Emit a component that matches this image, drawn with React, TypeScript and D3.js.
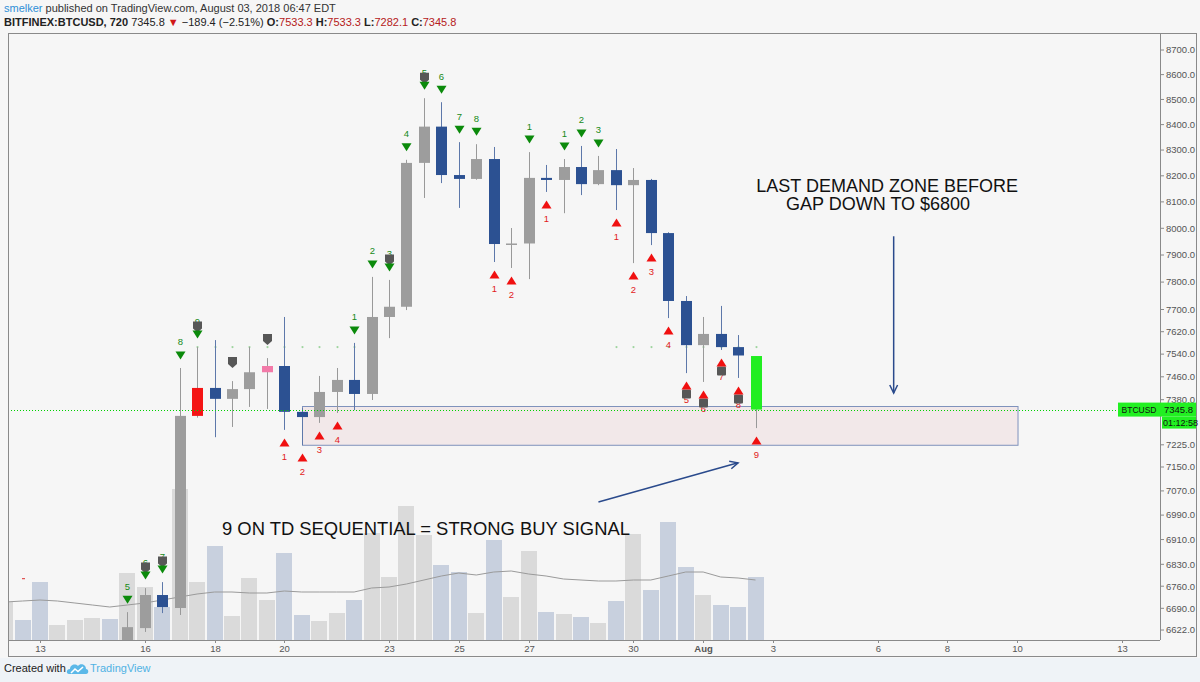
// @ts-nocheck
import * as d3 from "d3";
import { useEffect } from "react";

const FONT = "'Liberation Sans', Arial, Helvetica, sans-serif";

// BITFINEX:BTCUSD, 720 (12h bars). Bar 0 = 2018-07-12 00:00 UTC
const FIRST_BAR = Date.UTC(2018, 6, 12, 0);
const BAR_MS = 12 * 60 * 60 * 1000;

const opens = [6370, 6390, 6250, 6215, 6240, 6270, 6290, 6260, 6628, 6732, 6691, 7324, 7421, 7383, 7417, 7476, 7498, 7338, 7320, 7407, 7449, 7400, 7673, 7710, 8250, 8392, 8203, 8188, 8265, 7941, 7943, 8192, 8184, 8234, 8168, 8222, 8164, 8184, 7982, 7731, 7572, 7612, 7565, 7533.3];
const highs = [6420, 6400, 6300, 6280, 6300, 6340, 6320, 6678, 6754, 6773, 7491, 7565, 7590, 7445, 7565, 7526, 7673, 7351, 7463, 7491, 7580, 7819, 7808, 8262, 8505, 8489, 8331, 8323, 8312, 8001, 8292, 8242, 8265, 8316, 8277, 8304, 8230, 8188, 7985, 7749, 7673, 7713, 7608, 7533.3];
const lows = [6340, 6140, 6130, 6200, 6220, 6250, 6240, 6240, 6616, 6675, 6669, 7318, 7251, 7286, 7355, 7348, 7276, 7224, 7300, 7334, 7344, 7379, 7597, 7698, 8115, 8172, 8077, 8185, 7874, 7852, 7811, 8138, 8057, 8126, 8164, 8069, 7870, 7937, 7669, 7473, 7442, 7555, 7456, 7282.1];
const closes = [6390, 6250, 6215, 6240, 6270, 6290, 6260, 6631, 6732, 6694, 7324, 7421, 7383, 7417, 7476, 7498, 7338, 7320, 7407, 7449, 7400, 7673, 7710, 8250, 8392, 8203, 8188, 8265, 7941, 7943, 8192, 8184, 8234, 8168, 8222, 8164, 8184, 7982, 7731, 7572, 7612, 7565, 7535.2, 7345.8];
const volumes = [7600, 4000, 11600, 3000, 4000, 4400, 4200, 13400, 10600, 6600, 30200, 11600, 18800, 4800, 12400, 8000, 17400, 5000, 3800, 5400, 8000, 21400, 12600, 26800, 21000, 15000, 13600, 5400, 20000, 8600, 17800, 5600, 5200, 4600, 3400, 7800, 21200, 10000, 23600, 14600, 9000, 7000, 6600, 12600];
const volumeMA = [7600, 7800, 8000, 7800, 7400, 7000, 6600, 7000, 7400, 8000, 8600, 9200, 9600, 9600, 9400, 9400, 9800, 9600, 9600, 9600, 9600, 10400, 10600, 11200, 12000, 12800, 13400, 13000, 13600, 13800, 13200, 12800, 12200, 12000, 11800, 11800, 12000, 12000, 12800, 13600, 13600, 12600, 12400, 12000];

// bars repainted by the TD script (bar index -> colour)
const paintedBars = { 11: "#f41414", 15: "#f27aa8", 43: "#22ee22" };

// TD setup counts: [bar index, count]
const sellSetup = [[7, 5], [8, 6], [9, 7], [10, 8], [11, 9], [20, 1], [21, 2], [22, 3], [23, 4], [24, 5], [25, 6], [26, 7], [27, 8], [30, 1], [32, 1], [33, 2], [34, 3]];
const buySetup = [[16, 1], [17, 2], [18, 3], [19, 4], [28, 1], [29, 2], [31, 1], [35, 1], [36, 2], [37, 3], [38, 4], [39, 5], [40, 6], [41, 7], [42, 8], [43, 9]];
const sellFlags = [8, 9, 11, 22, 24];
const buyFlags = [39, 40, 41, 42];
const plainFlags = [13, 15];

// TDST dots
const tdstLevel = 7565;
const tdstBars = [11, 12, 13, 14, 15, 16, 17, 18, 19, 20, 35, 36, 37, 38, 39, 40, 41, 42, 43];
const supportLevel = 6786;
const supportBars = [0, 1];

const priceTicks = [8700, 8600, 8500, 8400, 8300, 8200, 8100, 8000, 7900, 7800, 7700, 7620, 7540, 7460, 7380, 7225, 7150, 7070, 6990, 6910, 6830, 6760, 6690, 6622];
const timeTicks = [
  ["2018-07-13", "13"], ["2018-07-16", "16"], ["2018-07-18", "18"], ["2018-07-20", "20"],
  ["2018-07-23", "23"], ["2018-07-25", "25"], ["2018-07-27", "27"], ["2018-07-30", "30"],
  ["2018-08-01", "Aug"], ["2018-08-03", "3"], ["2018-08-06", "6"], ["2018-08-08", "8"],
  ["2018-08-10", "10"], ["2018-08-13", "13"],
];

const lastPrice = 7345.8;
const demandZone = { from: "2018-07-20T12:00Z", to: "2018-08-10T00:00Z", top: 7357, bottom: 7224 };

const UP = "#9d9d9d";
const DOWN = "#2c5192";
const UP_WICK = "#999999";
const DOWN_WICK = "#5d78aa";
const VOL_UP = "#dadada";
const VOL_DOWN = "#c8d0de";
const NAVY = "#2a4a8c";

function arrowHead(x1, y1, x2, y2, len = 9, spread = 0.45) {
  const a = Math.atan2(y2 - y1, x2 - x1);
  const p1 = [x2 - len * Math.cos(a - spread), y2 - len * Math.sin(a - spread)];
  const p2 = [x2 - len * Math.cos(a + spread), y2 - len * Math.sin(a + spread)];
  return `M${p1[0]},${p1[1]}L${x2},${y2}L${p2[0]},${p2[1]}`;
}

export default function App() {
  useEffect(() => {
    document.body.style.margin = "0";
  }, []);

  const left = 8, right = 1160, top = 33, bottom = 640;
  const x = d3.scaleUtc([new Date("2018-07-13T00:00Z"), new Date("2018-08-13T00:00Z")], [40, 1122]);
  const y = d3.scaleLog([6591, 8770], [bottom, top]);
  const yVol = d3.scaleLinear([0, 40000], [bottom, 440]);
  const times = opens.map((_, k) => new Date(FIRST_BAR + k * BAR_MS));
  const bx = (k) => Math.round(x(times[k]));

  const maLine = d3.line().x((_, k) => x(times[k])).y((v) => yVol(v));

  const downTri = "M-5,-4L5,-4L0,4Z";
  const upTri = "M-5,4L5,4L0,-4Z";
  const shield = "M-4.5,-5H4.5V2L0,6L-4.5,2Z";

  const priceY = y(lastPrice);
  const priceLineY = Math.round(priceY) + 0.5;

  // annotation anchors (time, price)
  const vA = [x(new Date("2018-08-06T11:00Z")), y(7970)];
  const vB = [x(new Date("2018-08-06T11:00Z")), y(7403)];
  const dA = [x(new Date("2018-07-29T00:00Z")), y(7033)];
  const dB = [x(new Date("2018-08-02T00:00Z")), y(7164)];

  return (
    <svg width={1200} height={682} style={{ position: "absolute", left: 0, top: 0, display: "block" }} fontFamily={FONT}>
      <defs>
        <clipPath id="plot">
          <rect x={left} y={top} width={right - left} height={bottom - top} />
        </clipPath>
      </defs>
      <rect x={0} y={0} width={1200} height={682} fill="#f6f6f6" />
      <rect x={0} y={658} width={1200} height={24} fill="#eff3f7" />

      {/* header */}
      <text x={4} y={12} fontSize={11} fill="#333">
        <tspan fill="#2f8fd6">smelker</tspan>
        <tspan> published on TradingView.com, August 03, 2018 06:47 EDT</tspan>
      </text>
      <text x={4} y={26} fontSize={11} fill="#222">
        <tspan fontWeight="bold">BITFINEX:BTCUSD, 720</tspan>
        <tspan> 7345.8 </tspan>
        <tspan fill="#d01818">▼</tspan>
        <tspan> −189.4 (−2.51%) </tspan>
        <tspan fontWeight="bold">O:</tspan><tspan fill="#b52020">7533.3 </tspan>
        <tspan fontWeight="bold">H:</tspan><tspan fill="#b52020">7533.3 </tspan>
        <tspan fontWeight="bold">L:</tspan><tspan fill="#b52020">7282.1 </tspan>
        <tspan fontWeight="bold">C:</tspan><tspan fill="#b52020">7345.8</tspan>
      </text>

      <g clipPath="url(#plot)">
        {/* volume */}
        {volumes.map((v, k) => (
          <rect
            key={"v" + k}
            x={bx(k) - 8}
            y={yVol(v)}
            width={16}
            height={bottom - yVol(v)}
            fill={closes[k] >= opens[k] ? VOL_UP : VOL_DOWN}
          />
        ))}
        <path d={maLine(volumeMA)} fill="none" stroke="#9a9a9a" strokeWidth={1} />

        {/* TDST dots */}
        {tdstBars.map((k) => (
          <circle key={"t" + k} cx={bx(k) + 0.5} cy={y(tdstLevel)} r={1.1} fill="#9fd49f" />
        ))}
        {supportBars.map((k) => (
          <rect key={"s" + k} x={bx(k) - 1} y={y(supportLevel)} width={3} height={1.2} fill="#e05050" />
        ))}

        {/* demand zone */}
        <rect
          x={Math.round(x(new Date(demandZone.from))) + 0.5}
          y={Math.round(y(demandZone.top)) + 0.5}
          width={x(new Date(demandZone.to)) - x(new Date(demandZone.from))}
          height={y(demandZone.bottom) - y(demandZone.top)}
          fill="rgba(236,205,210,0.35)"
          stroke="#7f92bc"
          strokeWidth={1}
        />

        {/* candles */}
        {opens.map((o, k) => {
          const c = closes[k];
          const up = c >= o;
          const paint = paintedBars[k];
          const cx = bx(k);
          const yTop = y(Math.max(o, c));
          const yBot = y(Math.min(o, c));
          return (
            <g key={"c" + k}>
              <line x1={cx + 0.5} x2={cx + 0.5} y1={y(highs[k])} y2={y(lows[k])} stroke={paint ? UP_WICK : up ? UP_WICK : DOWN_WICK} />
              <rect x={cx - 5} y={yTop} width={11} height={Math.max(1.5, yBot - yTop)} fill={paint || (up ? UP : DOWN)} />
            </g>
          );
        })}

        {/* flags without arrows */}
        {plainFlags.map((k) => (
          <path key={"pf" + k} d={shield} transform={`translate(${bx(k) + 0.5},${y(highs[k]) - 19})`} fill="#575757" />
        ))}

        {/* sell setup (green arrows) */}
        {sellSetup.map(([k, n]) => {
          const cx = bx(k) + 0.5;
          const ty = y(highs[k]) - 12.5;
          return (
            <g key={"ss" + k}>
              <text x={cx} y={ty - 10} fontSize={9.5} fill="#168a16" textAnchor="middle">{n}</text>
              {sellFlags.includes(k) && <path d={shield} transform={`translate(${cx},${ty - 8})`} fill="#575757" />}
              <path d={downTri} transform={`translate(${cx},${ty})`} fill="#0b8a0b" />
            </g>
          );
        })}

        {/* buy setup (red arrows) */}
        {buySetup.map(([k, n]) => {
          const cx = bx(k) + 0.5;
          const ty = y(lows[k]) + 12.5;
          return (
            <g key={"bs" + k}>
              <text x={cx} y={ty + 17.5} fontSize={9.5} fill="#e21a1a" textAnchor="middle">{n}</text>
              {buyFlags.includes(k) && (
                <rect x={cx - 4.5} y={ty + 4} width={9} height={9} rx={1} fill="#575757" />
              )}
              <path d={upTri} transform={`translate(${cx},${ty})`} fill="#f01010" />
            </g>
          );
        })}

        {/* last price line */}
        <line x1={left} x2={1118} y1={priceLineY} y2={priceLineY} stroke="#00d200" strokeDasharray="1,2" strokeWidth={1} />

        {/* annotations */}
        <text x={x(new Date("2018-08-02T12:30Z"))} y={y(8137)} fontSize={18} fill="#111">LAST DEMAND ZONE BEFORE</text>
        <text x={x(new Date("2018-08-03T09:00Z"))} y={y(8069)} fontSize={18} fill="#111">GAP DOWN TO $6800</text>
        <text x={x(new Date("2018-07-18T05:10Z"))} y={y(6925)} fontSize={18.4} fill="#111">9 ON TD SEQUENTIAL = STRONG BUY SIGNAL</text>
        <line x1={vA[0]} y1={vA[1]} x2={vB[0]} y2={vB[1]} stroke={NAVY} strokeWidth={1.5} />
        <path d={arrowHead(vA[0], vA[1], vB[0], vB[1])} fill="none" stroke={NAVY} strokeWidth={1.5} />
        <line x1={dA[0]} y1={dA[1]} x2={dB[0]} y2={dB[1]} stroke={NAVY} strokeWidth={1.5} />
        <path d={arrowHead(dA[0], dA[1], dB[0], dB[1])} fill="none" stroke={NAVY} strokeWidth={1.5} />
      </g>

      {/* frame and axes */}
      <rect x={left + 0.5} y={top + 0.5} width={1196 - left} height={656 - top} fill="none" stroke="#8a8a8a" />
      <line x1={right + 0.5} x2={right + 0.5} y1={top} y2={bottom} stroke="#8a8a8a" />
      <line x1={left} x2={right} y1={bottom + 0.5} y2={bottom + 0.5} stroke="#8a8a8a" />

      {priceTicks.map((p) => (
        <g key={"p" + p} transform={`translate(${right},${y(p)})`}>
          <line x1={0} x2={4} stroke="#8a8a8a" />
          <text x={6} dy="0.35em" fontSize={9.5} fill="#555">{p.toFixed(1)}</text>
        </g>
      ))}

      {timeTicks.map(([d, label]) => (
        <g key={"d" + d + label} transform={`translate(${Math.round(x(new Date(d + "T00:00Z"))) + 0.5},${bottom})`}>
          <line y1={0} y2={3} stroke="#8a8a8a" />
          <text y={12} fontSize={9.5} fill="#555" textAnchor="middle" fontWeight={label === "Aug" ? "bold" : "normal"}>{label}</text>
        </g>
      ))}

      {/* last price labels */}
      <rect x={1118} y={priceY - 7} width={42} height={14} fill="#22f022" />
      <text x={1139} y={priceY} dy="0.35em" fontSize={8.5} fill="#111" textAnchor="middle">BTCUSD</text>
      <rect x={right} y={priceY - 7} width={36} height={14} fill="#22f022" />
      <text x={right + 4} y={priceY} dy="0.35em" fontSize={9.5} fill="#111">{lastPrice.toFixed(1)}</text>
      <rect x={right + 2} y={priceY + 7} width={34} height={12} fill="#22f022" />
      <text x={right + 3} y={priceY + 13} dy="0.35em" fontSize={9} fill="#111">01:12:58</text>

      {/* footer */}
      <text x={4} y={672} fontSize={11} fill="#222">Created with</text>
      <g transform="translate(67,662)">
        <path d="M2,12 C-1,12 -1,7 3,7 C3,3 8,1 11,4 C13,1 19,2 19,7 C22,7 22,12 19,12 Z" fill="#5bb8e8" />
        <path d="M4,11 L8,7 L11,9.5 L16,5" fill="none" stroke="#ffffff" strokeWidth={1.6} />
      </g>
      <text x={90} y={672} fontSize={11} fill="#4fb2e4">TradingView</text>
    </svg>
  );
}
